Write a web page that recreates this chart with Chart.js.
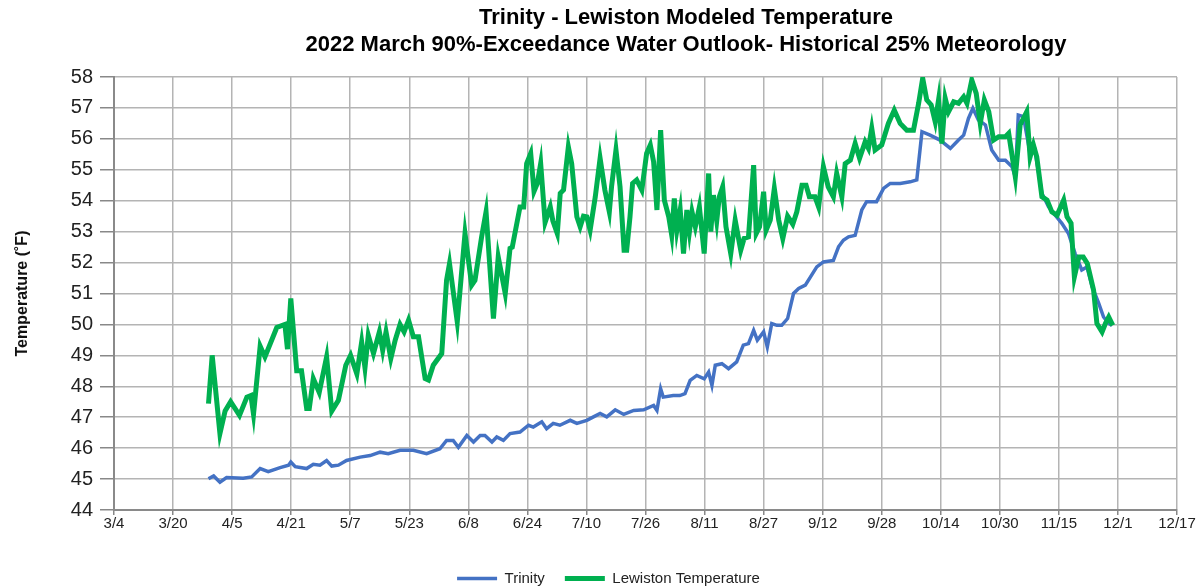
<!DOCTYPE html>
<html lang="en">
<head>
<meta charset="UTF-8">
<title>Trinity - Lewiston Modeled Temperature</title>
<script src="https://cdn.jsdelivr.net/npm/chart.js@4.4.7/dist/chart.umd.min.js"></script>
<style>
*{margin:0;padding:0;box-sizing:border-box}
body{background:#fff;width:1203px;height:586px;overflow:hidden}
#wrap{position:relative;width:1203px;height:586px}
</style>
</head>
<body>
<div id="wrap"><canvas id="tempChart"></canvas></div>
<script>
// x values are days after 3/4 (2022)
var TITLE = ["Trinity - Lewiston Modeled Temperature",
  "2022 March 90%-Exceedance Water Outlook- Historical 25% Meteorology"];
var X_TICK_LABELS = ["3/4","3/20","4/5","4/21","5/7","5/23","6/8","6/24","7/10","7/26",
  "8/11","8/27","9/12","9/28","10/14","10/30","11/15","12/1","12/17"];

var TRINITY_DAY = [25.6,27,28.7,30.5,35,37.3,39.6,41.8,45,47.3,47.9,49.1,52.2,54,55.8,57.6,59,60.8,63,66.7,
  69.4,72.1,74.3,77.5,81.1,84.7,88.3,90.1,91.9,93.3,95.6,97.4,99.2,100.5,102.4,103.7,105.5,107.3,110,112.3,
  113.6,115.9,117.2,119,120.8,123.6,125.4,128.1,129.9,131.7,133.5,135.8,138.1,140.8,143.5,146.2,147.1,148.1,148.8,151.5,
  153.3,154.7,156.1,157.9,159.9,161.1,162,162.9,164.7,166.5,168.7,170.5,171.9,173.3,174.3,176,177,178.2,179.6,180.9,
  182.5,184.1,185.5,187.3,190.4,192.2,194.9,196.3,197.6,199,200.8,202.6,203.9,206.6,208.5,210.3,213,215.7,217.5,218.9,
  221.1,223.8,226.6,228.8,230.2,231.5,232.7,234.2,236.1,237.8,239.7,241.5,243.3,244.2,245,246.4,248.2,249.5,251.4,253.2,
  255,256.8,258.6,260.4,262.2,263.6,265,266.8,268.1,269.5,270.4];
var TRINITY_TEMP = [45.01,45.1,44.9,45.05,45.03,45.07,45.34,45.24,45.37,45.45,45.55,45.4,45.34,45.48,45.45,45.6,45.42,45.45,45.6,45.71,
  45.76,45.87,45.82,45.93,45.93,45.82,45.98,46.25,46.25,46.03,46.41,46.2,46.41,46.41,46.2,46.36,46.25,46.47,46.52,46.74,
  46.68,46.85,46.63,46.8,46.74,46.9,46.8,46.9,47.01,47.12,47.01,47.24,47.09,47.22,47.24,47.38,47.22,47.92,47.65,47.7,
  47.7,47.76,48.19,48.35,48.24,48.46,48.03,48.68,48.73,48.57,48.79,49.33,49.38,49.81,49.49,49.76,49.27,50.03,49.97,49.97,
  50.19,51.0,51.16,51.27,51.86,52.02,52.07,52.51,52.72,52.83,52.88,53.7,53.97,53.97,54.4,54.56,54.56,54.61,54.67,56.23,
  56.12,55.96,55.69,55.96,56.12,56.66,56.99,56.61,56.45,55.64,55.31,55.31,55.1,54.77,56.77,56.72,55.53,55.64,54.24,53.8,
  53.53,53.27,52.94,52.29,51.76,51.86,51.22,50.68,50.24,50.03,49.97];

var LEWISTON_DAY = [25.6,26.6,28.7,30.1,31.6,34,36,37.1,37.8,39.6,40.9,44.1,46.3,47,47.9,49.5,50.8,52.2,52.9,54,
  55.6,57.6,59,60.8,62.8,64.1,65.8,67.1,68,68.9,70.3,71.9,72.8,73.7,75,76.2,77.5,78.6,79.8,81.1,
  82.5,84.3,85.2,86.5,88.8,90.1,90.9,93,95.1,96.9,97.8,99.6,100.8,102.8,104.1,106,107.3,107.9,110,111,
  111.8,112.9,113.8,114.7,115.6,116.8,118.2,118.9,120.1,120.9,121.8,123.1,124,125.4,126.3,127.2,128.1,129,130.4,131.7,
  133,134.2,134.8,136,137.1,138.2,138.9,139.8,140.5,141.6,143,144.3,145.3,146.2,147.1,148.1,149.1,150.3,151.1,151.8,
  152.5,153.4,154.3,155.2,155.9,156.6,157.5,158.6,159.9,161.1,161.7,162.4,163.3,164,164.9,165.8,167.1,168.3,169.8,170.7,
  171.9,173.3,174,174.9,176,176.7,177.8,178.9,180.1,181.2,182.5,183.9,185,186.4,187.5,188.4,189.9,190.9,192.2,193.5,
  194.9,195.8,197.2,198.1,199.5,200.8,202,203.5,204.4,205.3,206.2,208,209.8,211.4,213,214.8,216.6,218,219.1,220.2,
  221.4,222.5,223.4,224.3,225.2,226.1,227.5,228.8,230.2,231.1,232.4,233.6,234.7,235.8,237,238.3,239.7,241.5,242.4,244.2,
  245.5,247.3,248.2,249.1,250,251.4,252.8,254.1,255.5,257.3,258.2,259.3,260.2,261.4,262.6,263.7,265.4,266.3,267.7,268.6,
  269.5,270.6];
var LEWISTON_TEMP = [47.44,49.0,46.47,47.2,47.5,47.06,47.65,47.7,47.1,49.3,48.95,49.9,50.0,49.2,50.84,48.5,48.5,47.28,47.28,48.25,
  47.8,48.95,47.2,47.55,48.68,49.0,48.4,49.43,48.6,49.65,49.06,49.76,49.16,49.76,48.9,49.5,50.0,49.76,50.14,49.6,
  49.6,48.25,48.2,48.68,49.06,51.43,51.97,50.08,52.94,51.27,51.43,52.83,53.64,50.19,52.18,51.0,52.46,52.5,53.8,53.8,
  55.2,55.53,54.3,54.56,55.2,53.3,53.8,53.35,52.94,54.24,54.35,55.74,55.2,53.48,53.16,53.5,53.48,53.05,54.13,55.37,
  54.34,53.64,54.45,55.64,54.45,52.4,52.4,53.48,54.56,54.67,54.34,55.53,55.8,55.26,53.7,56.28,54.02,53.48,52.89,54.07,
  53.05,53.7,52.29,53.7,53.0,53.64,53.16,53.8,52.29,54.88,53.0,54.18,53.35,54.13,54.45,53.16,52.29,53.37,52.4,52.78,
  52.83,55.15,52.94,53.16,54.29,53.05,53.37,54.4,53.37,52.78,53.5,53.24,53.64,54.5,54.5,54.13,54.13,53.8,55.1,54.45,
  54.13,54.88,54.13,55.2,55.31,55.85,55.37,55.9,55.69,56.34,55.64,55.8,56.5,56.93,56.5,56.28,56.28,57.15,57.96,57.26,
  57.1,56.55,57.26,55.85,57.31,56.88,57.2,57.15,57.36,57.15,57.9,57.47,56.5,57.26,56.88,55.96,56.07,56.07,56.18,54.77,
  56.45,56.88,55.42,55.8,55.42,54.13,54.02,53.64,53.53,54.02,53.48,53.27,51.54,52.18,52.18,51.97,51.11,50.03,49.76,50.03,
  50.24,49.97];

function toPoints(days, temps) {
  return days.map(function (d, i) { return { x: d, y: temps[i] }; });
}

var FONT = "'Liberation Sans', Arial, sans-serif";

// two-line chart title, drawn centred over the plot like the original
var titlePlugin = {
  id: "twoLineTitle",
  afterLayout: function (chart) {
    // nudge the legend down/right to where the original sits
    var lg = chart.legend;
    lg.top += 10; lg.bottom += 10;
    lg.left += 20; lg.right += 20;
  },
  afterDraw: function (chart) {
    var ctx = chart.ctx;
    ctx.save();
    ctx.fillStyle = "#000";
    ctx.font = "bold 22px " + FONT;
    ctx.textAlign = "center";
    ctx.textBaseline = "middle";
    ctx.fillText(TITLE[0], 686, 18);
    ctx.fillText(TITLE[1], 686, 45);
    ctx.restore();
  }
};

new Chart(document.getElementById("tempChart"), {
  type: "line",
  data: {
    datasets: [
      { label: "Trinity", data: toPoints(TRINITY_DAY, TRINITY_TEMP), borderColor: "#4472C4",
        backgroundColor: "#4472C4", borderWidth: 3.5, pointRadius: 0, pointStyle: "line", order: 1 },
      { label: "Lewiston Temperature", data: toPoints(LEWISTON_DAY, LEWISTON_TEMP), borderColor: "#00B050",
        backgroundColor: "#00B050", borderWidth: 5, pointRadius: 0, pointStyle: "line", order: 0 }
    ]
  },
  options: {
    responsive: true,
    maintainAspectRatio: false,
    animation: false,
    layout: { padding: { top: 77, right: 26, left: 0, bottom: 0 } },
    plugins: {
      legend: {
        position: "bottom",
        labels: {
          usePointStyle: true, pointStyleWidth: 40, color: "#222", padding: 20,
          font: { family: FONT, size: 15 },
          sort: function (a, b) { return a.datasetIndex - b.datasetIndex; }
        }
      },
      tooltip: { enabled: false }
    },
    scales: {
      x: {
        type: "linear", min: 0, max: 288,
        afterFit: function (s) { s.height = 31; },
        grid: { color: "#b4b4b4", lineWidth: 1.5, tickLength: 5, tickColor: "#888" },
        border: { color: "#8a8a8a", width: 2 },
        ticks: {
          stepSize: 16, autoSkip: false, maxRotation: 0, padding: 0, color: "#222",
          font: { family: FONT, size: 15 },
          callback: function (v) { return X_TICK_LABELS[Math.round(v / 16)]; }
        }
      },
      y: {
        min: 44, max: 58,
        afterFit: function (s) { s.width = 114; },
        grid: { color: "#b4b4b4", lineWidth: 1.5, tickLength: 14, tickColor: "#888" },
        border: { color: "#8a8a8a", width: 2 },
        ticks: { stepSize: 1, padding: 7, color: "#222", font: { family: FONT, size: 20 } },
        title: {
          display: true, text: "Temperature (˚F)", color: "#111",
          font: { family: FONT, size: 16, weight: "bold" }, padding: { top: 13, bottom: 4 }
        }
      }
    }
  },
  plugins: [titlePlugin]
});
</script>
</body>
</html>
